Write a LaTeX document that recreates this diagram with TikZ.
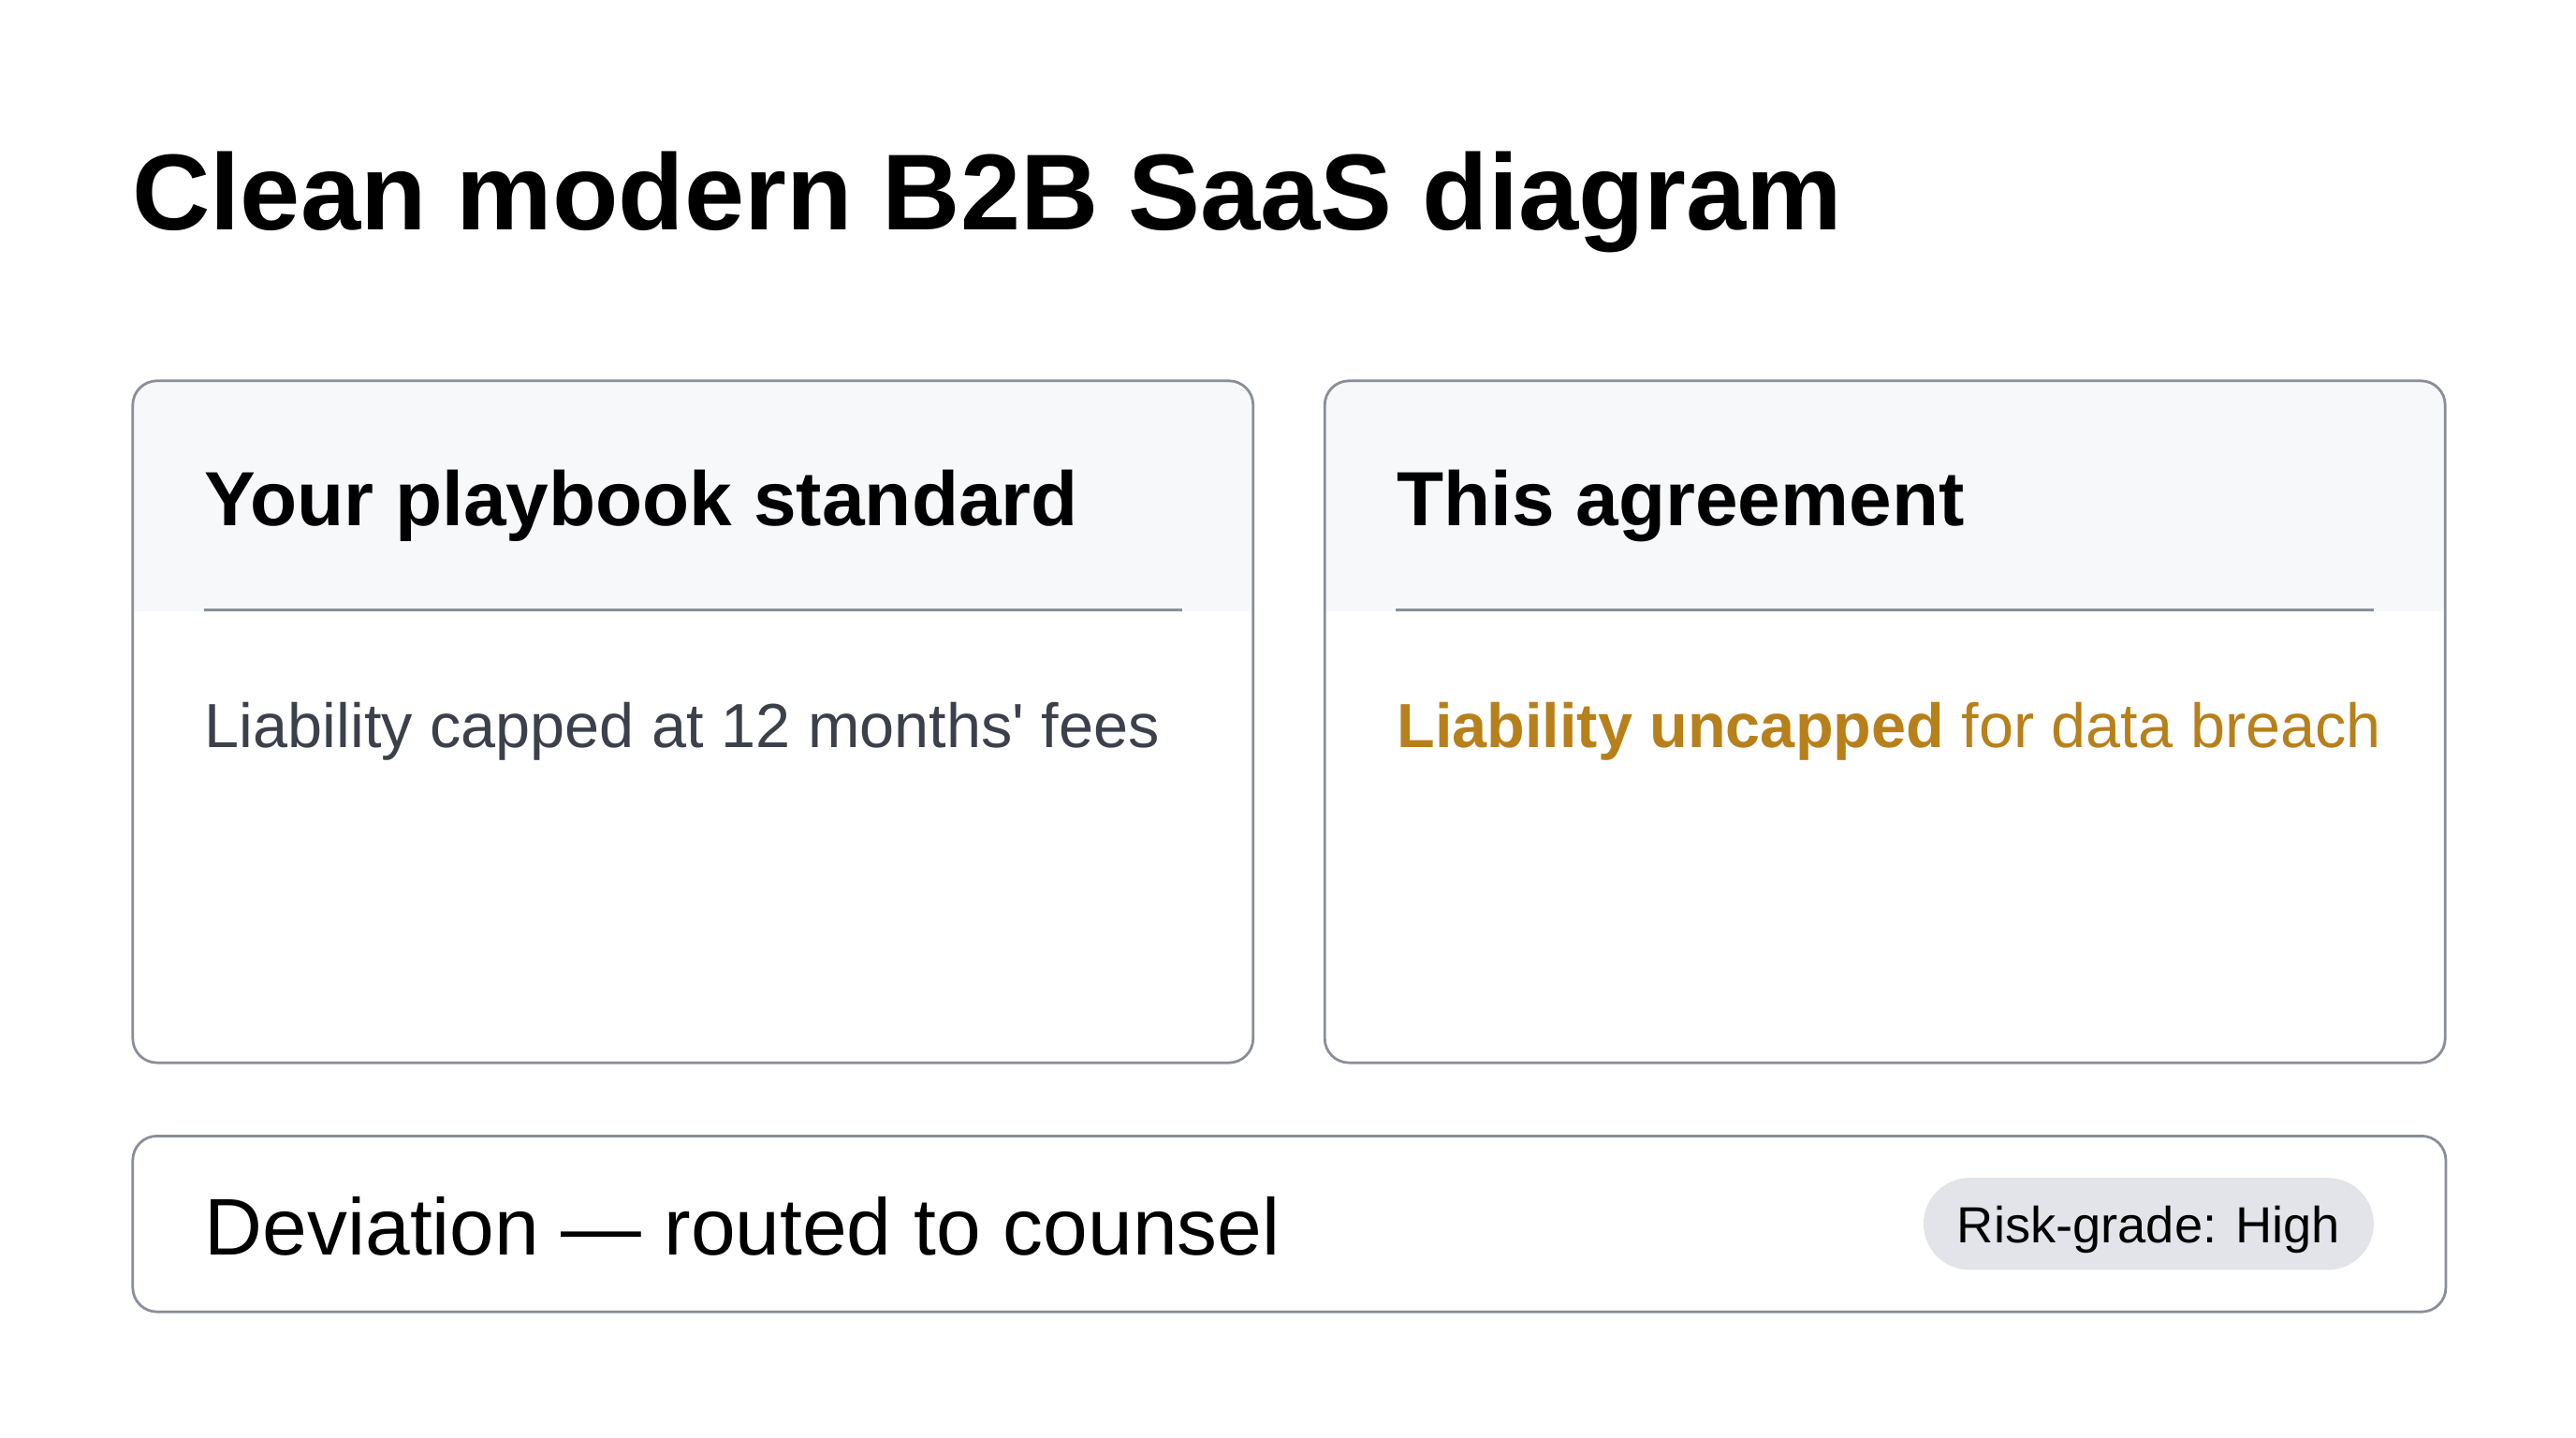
\documentclass[tikz,border=0pt]{standalone}
\usepackage{fontspec}
\setmainfont{Liberation Sans}[Ligatures=TeXOff]
\usepackage{xcolor}
\usepackage{tikz}
\usetikzlibrary{
    positioning,
    calc
}
\definecolor{cardline}{HTML}{8A8E98}
\definecolor{headfill}{HTML}{F7F8FA}
\definecolor{bodygray}{HTML}{3C404B}
\definecolor{amber}{HTML}{B8801A}
\definecolor{pillfill}{HTML}{E3E4E9}
\tikzset{
  card/.style = {
      draw=cardline,
      line width=0.45pt,
      rounded corners=4.2pt,
      fill=white,
      inner sep=0pt
  },
  headcard/.style = {
      card,
      minimum width=68.2mm,
      minimum height=41.5mm,
      path picture={
        \fill[headfill, sharp corners] (path picture bounding box.north west)
          rectangle ([yshift=-14mm]path picture bounding box.north east);
      }
  },
  title/.style = {
      inner sep=0pt,
      font=\fontsize{18.7}{22}\selectfont\bfseries
  },
  headtext/.style = {
      inner sep=0pt,
      font=\fontsize{13.3}{16}\selectfont\bfseries
  },
  bodytext/.style = {
      inner sep=0pt,
      font=\fontsize{10.8}{13}\selectfont
  },
  devtext/.style = {
      inner sep=0pt,
      font=\fontsize{13.9}{17}\selectfont
  },
  pill/.style = {
      fill=pillfill,
      rounded corners=2.8mm,
      minimum width=27.4mm,
      minimum height=5.6mm,
      inner sep=0pt,
      text height=1.5ex,
      text depth=0.25ex,
      font=\fontsize{8.8}{10}\selectfont
  },
  rule/.style = {
      draw=cardline,
      line width=0.45pt
  }
}

\begin{document}
\begin{tikzpicture}[x=0.1mm, y=-0.1mm]
    % Canvas
    \fill[white] (0,0) rectangle (1568,875);
    \useasboundingbox (0,0) rectangle (1568,875);
    % Title
    \node[title, anchor=base west] (title) at (80,140) {Clean modern B2B SaaS diagram};
    % Cards
    \node[headcard, anchor=north west] (std) at (80,231) {};
    \node[headcard, right=4.2mm of std] (agr) {};
    \node[card, anchor=north west, minimum width=140.8mm, minimum height=10.7mm]
      (dev) at ($(std.south west)+(0,43)$) {};
    % Header rules
    \draw[rule] ($(std.north west)+(44,140)$) -- ($(std.north east)+(-44,140)$);
    \draw[rule] ($(agr.north west)+(44,140)$) -- ($(agr.north east)+(-44,140)$);
    % Texts
    \node[headtext, anchor=base west] (stdhead) at ($(std.north west)+(44,89)$) {Your playbook standard};
    \node[headtext, anchor=base west] (agrhead) at ($(agr.north west)+(44,89)$) {This agreement};
    \node[bodytext, text=bodygray, anchor=base west] (stdbody) at ($(std.north west)+(44,224)$)
      {Liability capped at 12 months' fees};
    \node[bodytext, text=amber, anchor=base west] (agrbody) at ($(agr.north west)+(44,224)$)
      {\textbf{Liability uncapped} for data breach};
    \node[devtext, anchor=base west] (devtext) at ($(dev.north west)+(44,73)$)
      {Deviation — routed to counsel};
    \node[pill, anchor=east] (risk) at ($(dev.east)+(-44,0)$) {Risk-grade: High};
\end{tikzpicture}
\end{document}
